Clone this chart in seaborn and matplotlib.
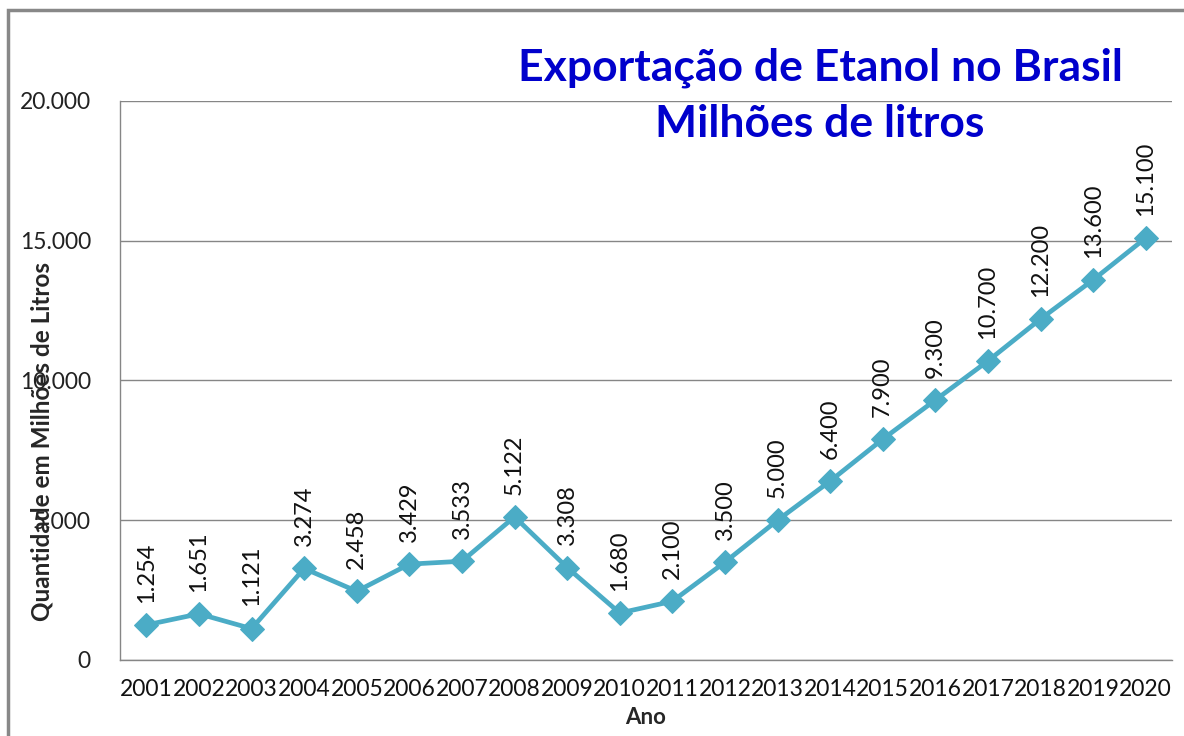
import numpy as np
import pandas as pd
import seaborn as sns
import matplotlib.pyplot as plt
from matplotlib.patches import Rectangle
from matplotlib.ticker import FuncFormatter, MultipleLocator

# Ethanol exports per year (millions of litres)
anos = [2001, 2002, 2003, 2004, 2005, 2006, 2007, 2008, 2009, 2010,
        2011, 2012, 2013, 2014, 2015, 2016, 2017, 2018, 2019, 2020]
quantidade = [1254, 1651, 1121, 3274, 2458, 3429, 3533, 5122, 3308, 1680,
              2100, 3500, 5000, 6400, 7900, 9300, 10700, 12200, 13600, 15100]
rotulos = ["1.254", "1.651", "1.121", "3.274", "2.458", "3.429", "3.533", "5.122", "3.308", "1.680",
           "2.100", "3.500", "5.000", "6.400", "7.900", "9.300", "10.700", "12.200", "13.600", "15.100"]

df = pd.DataFrame({"Ano": anos, "Quantidade": quantidade})

sns.set_style("white")
plt.rcParams['font.family'] = ['Lato', 'DejaVu Sans']

fig = plt.figure(figsize=(11.84, 7.36), dpi=100)
ax = fig.add_axes([0.1014, 0.1033, 0.8885, 0.7595])

linha_cor = "#4BACC6"
sns.lineplot(data=df, x="Ano", y="Quantidade", ax=ax, color=linha_cor, linewidth=3.4,
             marker="D", markersize=12.5, markeredgecolor=linha_cor)

# rotated value labels above each point
for x, y, txt in zip(anos, quantidade, rotulos):
    ax.annotate(txt, (x, y), xytext=(0, 16), textcoords="offset points",
                rotation=90, ha="center", va="bottom", fontsize=17, color="#111111")

ax.set_xlim(2000.5, 2020.5)
ax.set_ylim(0, 20000)
ax.yaxis.set_major_locator(MultipleLocator(5000))
ax.yaxis.set_major_formatter(FuncFormatter(lambda v, p: f"{int(v):,}".replace(",", ".")))
ax.grid(axis="y", color="#868686", linewidth=1)
ax.set_axisbelow(True)

ax.set_xticks(anos)
ax.set_xticklabels([str(a) for a in anos])
ax.set_xticks(np.arange(2000.5, 2021, 1), minor=True)
ax.tick_params(axis="x", which="major", length=0, pad=14, labelsize=16.5, colors="#111111")
ax.tick_params(axis="x", which="minor", length=8, color="#868686", direction="out")
ax.tick_params(axis="y", which="major", length=7, color="#868686", direction="out",
               labelsize=16.5, labelcolor="#222222", pad=14)

for s in ["top", "right"]:
    ax.spines[s].set_visible(False)
for s in ["left", "bottom"]:
    ax.spines[s].set_color("#868686")
    ax.spines[s].set_linewidth(1)

ax.set_xlabel("Ano", fontsize=16, fontweight="bold", labelpad=5)
ax.set_ylabel("Quantidade em Milhões de Litros", fontsize=17.5, fontweight="bold")
ax.yaxis.set_label_coords(-0.063, 0.39)

fig.text(0.6926, 0.908, "Exportação de Etanol no Brasil", ha="center", va="center",
         fontsize=32, fontweight="bold", color="#0000CC")
fig.text(0.6926, 0.832, "Milhões de litros", ha="center", va="center",
         fontsize=32, fontweight="bold", color="#0000CC")

# outer chart frame
fig.patches.append(Rectangle((0.0068, -0.1), 1.2, 1.0864, transform=fig.transFigure,
                             fill=False, edgecolor="#888888", linewidth=2.5))

plt.savefig("out.png", dpi=100)
